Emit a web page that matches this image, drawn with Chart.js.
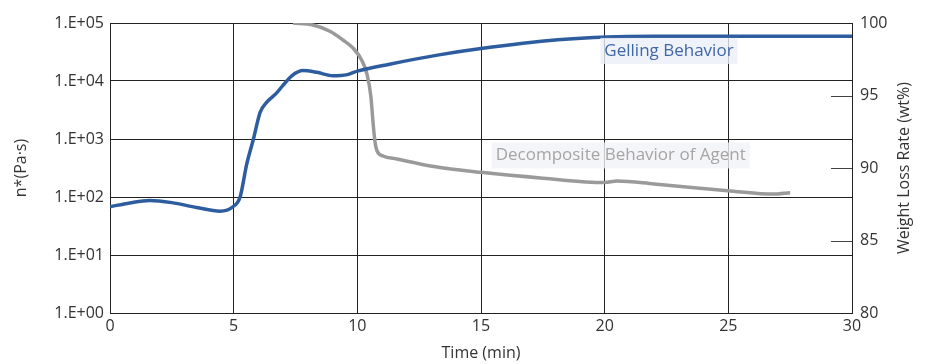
<!DOCTYPE html>
<html>
<head>
<meta charset="utf-8">
<script src="https://cdn.jsdelivr.net/npm/chart.js@4"></script>
<style>
  body { margin: 0; background: #fff; }
  #wrap { width: 927px; height: 364px; }
</style>
</head>
<body>
<div id="wrap"><canvas id="myChart" width="927" height="364"></canvas></div>
<script>
// data
const gelTime = [0, 0.8, 1.6, 2.5, 3.5, 4.45, 4.97, 5.26, 5.53, 5.8, 6.07, 6.33, 6.75, 7.0, 7.35, 7.8, 8.36, 9.0, 9.6, 10.0, 11.3, 13.3, 15, 18.1, 20.1, 22, 25, 30];
const gelViscosity = [68, 79, 87, 80, 66, 57, 68, 100, 372, 1000, 2880, 4270, 6300, 8500, 12300, 15100, 14100, 12300, 12900, 14800, 19500, 28200, 36300, 51300, 57500, 58900, 58900, 58900];
const decompTime = [7.4, 8.21, 8.89, 9.42, 9.82, 10.19, 10.39, 10.55, 10.63, 10.71, 10.8, 11.04, 11.6, 13.1, 15, 17.5, 20, 20.5, 22, 25.2, 26.8, 27.5];
const weightLoss = [100, 99.86, 99.43, 98.83, 98.28, 97.4, 96.48, 94.9, 93.24, 91.86, 91.17, 90.83, 90.62, 90.1, 89.7, 89.3, 89.0, 89.1, 88.9, 88.4, 88.2, 88.3];
const decadeTicks = [1, 10, 100, 1000, 10000, 100000];
const decadeLabels = ["1.E+00", "1.E+01", "1.E+02", "1.E+03", "1.E+04", "1.E+05"];
const weightTicks = [80, 85, 90, 95, 100];

const ctx = document.getElementById("myChart");
const font = { family: "'Open Sans'", size: 16 };
const textColor = "#333";
const gridColor = "#222";

// short inside ticks on the right axis, its title, and the two labels in the plot
const extras = {
  id: "extras",
  afterDraw(chart) {
    const c = chart.ctx;
    const { right, top, bottom } = chart.chartArea;
    const y2 = chart.scales.y2;
    const x = chart.scales.x;
    const y = chart.scales.y;
    c.save();
    c.strokeStyle = "#444";
    c.lineWidth = 1;
    [85, 90, 95].forEach(v => {
      const py = Math.round(y2.getPixelForValue(v)) + 0.5;
      c.beginPath();
      c.moveTo(right - 21, py);
      c.lineTo(right, py);
      c.stroke();
    });
    // right axis title, read bottom to top
    c.save();
    c.translate(904, (top + bottom) / 2);
    c.rotate(-Math.PI / 2);
    c.font = "16px 'Open Sans'";
    c.fillStyle = textColor;
    c.textAlign = "center";
    c.textBaseline = "middle";
    c.fillText("Weight Loss Rate (wt%)", 0, 0);
    c.restore();

    c.font = "17px 'Open Sans'";
    c.textBaseline = "middle";
    c.textAlign = "center";
    const labels = [
      { text: "Gelling Behavior", x: 22.6, y: 3.3e4, color: "#3f67a8", bg: "rgba(235,240,248,0.8)" },
      { text: "Decomposite Behavior of Agent", x: 20.65, y: 520, color: "#a8a4a4", bg: "rgba(240,243,246,0.8)" }
    ];
    labels.forEach(l => {
      const px = x.getPixelForValue(l.x);
      const py = y.getPixelForValue(l.y);
      const w = c.measureText(l.text).width;
      c.fillStyle = l.bg;
      c.fillRect(px - w / 2 - 4, py - 13, w + 8, 26);
      c.fillStyle = l.color;
      c.fillText(l.text, px, py);
    });
    c.restore();
  }
};

new Chart(ctx, {
  type: "line",
  data: {
    datasets: [
      {
        label: "Gelling Behavior",
        data: gelTime.map((t, i) => ({ x: t, y: gelViscosity[i] })),
        borderColor: "#2e5d9f",
        borderWidth: 3.5,
        pointRadius: 0,
        cubicInterpolationMode: "monotone",
        yAxisID: "y",
      },
      {
        label: "Decomposite Behavior of Agent",
        data: decompTime.map((t, i) => ({ x: t, y: weightLoss[i] })),
        borderColor: "#9a9a9a",
        borderWidth: 3.5,
        pointRadius: 0,
        cubicInterpolationMode: "monotone",
        yAxisID: "y2",
      },
    ],
  },
  options: {
    responsive: false,
    animation: false,
    layout: { padding: { top: 23, left: 0, right: 0, bottom: 0 } },
    plugins: { legend: { display: false }, tooltip: { enabled: false } },
    scales: {
      x: {
        type: "linear",
        min: 0,
        max: 30,
        ticks: { stepSize: 5, font: font, color: textColor, padding: 4 },
        grid: { color: gridColor, lineWidth: 1, drawTicks: false },
        border: { color: gridColor },
        title: { display: true, text: "Time (min)", font: font, color: textColor, padding: { top: 0, bottom: 1 } },
        afterFit: s => { s.height = 51; },
      },
      y: {
        type: "logarithmic",
        position: "left",
        min: 1,
        max: 100000,
        afterBuildTicks: s => { s.ticks = decadeTicks.map(v => ({ value: v })); },
        ticks: {
          font: font,
          color: textColor,
          padding: 6,
          callback: v => decadeLabels[decadeTicks.indexOf(v)],
        },
        grid: { color: gridColor, lineWidth: 1, drawTicks: false },
        border: { color: gridColor },
        title: { display: true, text: "n*(Pa·s)", font: font, color: textColor, padding: { top: 12, bottom: 0 } },
        afterFit: s => { s.width = 110; },
      },
      y2: {
        type: "linear",
        position: "right",
        min: 80,
        max: 100,
        afterBuildTicks: s => { s.ticks = weightTicks.map(v => ({ value: v })); },
        ticks: { font: font, color: textColor, padding: 8 },
        grid: { drawOnChartArea: false, drawTicks: false },
        border: { color: gridColor },
        afterFit: s => { s.width = 75; },
      },
    },
  },
  plugins: [extras],
});
</script>
</body>
</html>
